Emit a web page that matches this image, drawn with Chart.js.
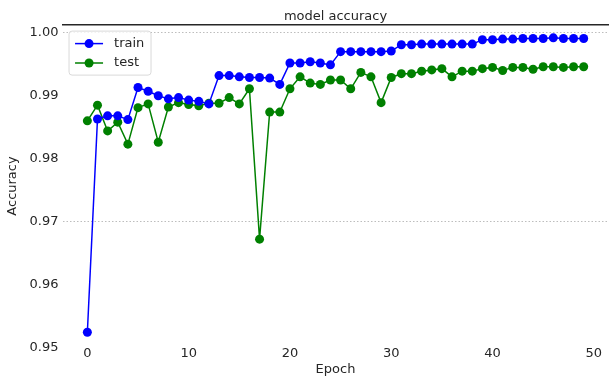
<!DOCTYPE html>
<html>
<head>
<meta charset="utf-8">
<script src="https://cdn.jsdelivr.net/npm/chart.js@4/dist/chart.umd.min.js"></script>
<style>
  html, body { margin: 0; padding: 0; background: #fff; }
  #wrap { width: 613px; height: 377px; }
</style>
</head>
<body>
<div id="wrap"><canvas id="accChart" width="613" height="377"></canvas></div>
<script>
var epochs = [0, 1, 2, 3, 4, 5, 6, 7, 8, 9,
              10, 11, 12, 13, 14, 15, 16, 17, 18, 19,
              20, 21, 22, 23, 24, 25, 26, 27, 28, 29,
              30, 31, 32, 33, 34, 35, 36, 37, 38, 39,
              40, 41, 42, 43, 44, 45, 46, 47, 48, 49];

var trainAcc = [0.9524, 0.9863, 0.9868, 0.9868, 0.9862, 0.9913, 0.9907, 0.9900, 0.9895, 0.9897,
                0.9893, 0.9891, 0.9887, 0.9932, 0.9932, 0.9930, 0.9929, 0.9929, 0.9928, 0.9918,
                0.9952, 0.9952, 0.9954, 0.9952, 0.9949, 0.9970, 0.9970, 0.9970, 0.9970, 0.9970,
                0.9971, 0.9981, 0.9981, 0.9982, 0.9982, 0.9982, 0.9982, 0.9982, 0.9982, 0.9989,
                0.9989, 0.9990, 0.9990, 0.9991, 0.9991, 0.9991, 0.9992, 0.9991, 0.9991, 0.9991];

var testAcc = [0.9860, 0.9885, 0.9844, 0.9858, 0.9823, 0.9881, 0.9887, 0.9826, 0.9882, 0.9889,
               0.9886, 0.9884, 0.9888, 0.9888, 0.9897, 0.9887, 0.9911, 0.9672, 0.9874, 0.9874,
               0.9911, 0.9930, 0.9920, 0.9918, 0.9925, 0.9925, 0.9911, 0.9937, 0.9930, 0.9889,
               0.9929, 0.9935, 0.9935, 0.9939, 0.9941, 0.9943, 0.9930, 0.9939, 0.9939, 0.9943,
               0.9945, 0.9940, 0.9945, 0.9945, 0.9942, 0.9946, 0.9946, 0.9945, 0.9946, 0.9946];

var seriesNames = ['train', 'test'];
var seriesColors = ['#0000ff', '#008000'];
var xTicks = [0, 10, 20, 30, 40, 50];
var yTicks = [0.95, 0.96, 0.97, 0.98, 0.99, 1.00];
var gridAt = [0.97, 1.00]; // only these dotted lines show in the original

function toPoints(ys) {
    return epochs.map(function(e, i) { return { x: e, y: ys[i] }; });
}

Chart.defaults.font.family = '"DejaVu Sans", sans-serif';
Chart.defaults.font.size = 13;
Chart.defaults.color = '#262626';

// matplotlib-like legend drawn inside the axes, upper left
var innerLegend = {
    id: 'innerLegend',
    afterDatasetsDraw: function(chart) {
        var ctx = chart.ctx;
        var area = chart.chartArea;
        var bx = area.left + 6.5, by = area.top + 6.5, bw = 82, bh = 44;
        ctx.save();
        ctx.beginPath();
        ctx.roundRect(bx, by, bw, bh, 3);
        ctx.fillStyle = 'rgba(255,255,255,0.8)';
        ctx.fill();
        ctx.strokeStyle = '#d9d9d9';
        ctx.lineWidth = 1;
        ctx.stroke();
        chart.data.datasets.forEach(function(ds, i) {
            var cy = by + 12.5 + i * 19.4;
            ctx.strokeStyle = ds.borderColor;
            ctx.lineWidth = 1.5;
            ctx.beginPath();
            ctx.moveTo(bx + 6, cy);
            ctx.lineTo(bx + 34, cy);
            ctx.stroke();
            ctx.fillStyle = ds.backgroundColor;
            ctx.beginPath();
            ctx.arc(bx + 20, cy, 4.5, 0, Math.PI * 2);
            ctx.fill();
            ctx.fillStyle = '#262626';
            ctx.font = '13px "DejaVu Sans", sans-serif';
            ctx.textBaseline = 'middle';
            ctx.textAlign = 'left';
            ctx.fillText(ds.label, bx + 45, cy);
        });
        ctx.restore();
    }
};

var chart = new Chart(document.getElementById('accChart').getContext('2d'), {
    type: 'line',
    data: {
        datasets: [{
            label: seriesNames[0],
            data: toPoints(trainAcc),
            borderColor: seriesColors[0],
            backgroundColor: seriesColors[0],
            borderWidth: 1.5,
            pointRadius: 4.5,
            pointBorderWidth: 0,
            tension: 0
        }, {
            label: seriesNames[1],
            data: toPoints(testAcc),
            borderColor: seriesColors[1],
            backgroundColor: seriesColors[1],
            borderWidth: 1.5,
            pointRadius: 4.5,
            pointBorderWidth: 0,
            tension: 0
        }]
    },
    plugins: [innerLegend],
    options: {
        responsive: false,
        animation: false,
        layout: { padding: { left: 4, right: 3, top: 0, bottom: 0 } },
        plugins: {
            legend: { display: false },
            tooltip: { enabled: false },
            title: {
                display: true,
                text: 'model accuracy',
                fullSize: false,
                color: '#262626',
                font: { size: 13, weight: 'normal' },
                padding: { top: 9, bottom: 0 }
            }
        },
        scales: {
            x: {
                type: 'linear',
                min: -2.45,
                max: 51.45,
                afterBuildTicks: function(axis) {
                    axis.ticks = xTicks.map(function(v) { return { value: v }; });
                },
                ticks: {
                    padding: 0,
                    font: { size: 13, lineHeight: 1 },
                    maxRotation: 0,
                    callback: function(v) { return String(v); }
                },
                grid: { display: false, drawTicks: false },
                border: { display: false },
                title: {
                    display: true,
                    text: 'Epoch',
                    font: { size: 13 },
                    padding: { top: 1, bottom: 0 }
                }
            },
            xTop: {
                type: 'linear',
                position: 'top',
                min: -2.45,
                max: 51.45,
                ticks: { display: false },
                grid: { display: false, drawTicks: false },
                border: { display: true, color: '#262626', width: 1.5 }
            },
            y: {
                type: 'linear',
                min: 0.95,
                max: 1.0013,
                afterBuildTicks: function(axis) {
                    axis.ticks = yTicks.map(function(v) { return { value: v }; });
                },
                ticks: {
                    padding: 4,
                    font: { size: 13 },
                    callback: function(v) { return Number(v).toFixed(2); }
                },
                grid: {
                    drawTicks: false,
                    lineWidth: 1,
                    color: function(c) {
                        var v = c.tick ? c.tick.value : null;
                        var hit = gridAt.some(function(g) { return v !== null && Math.abs(v - g) < 1e-6; });
                        return hit ? '#bdbdbd' : 'rgba(0,0,0,0)';
                    }
                },
                border: { display: false, dash: [1.5, 2] },
                title: {
                    display: true,
                    text: 'Accuracy',
                    font: { size: 13 },
                    padding: { top: 1, bottom: 5 }
                }
            }
        }
    }
});
</script>
</body>
</html>
